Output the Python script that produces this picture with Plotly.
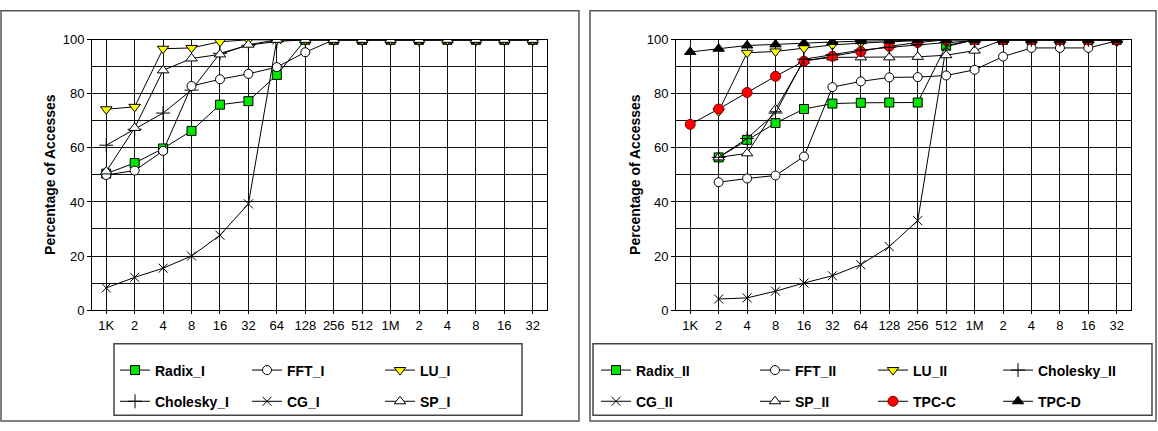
import plotly.graph_objects as go

W, H = 1158, 431

x_labels = ["1K", "2", "4", "8", "16", "32", "64", "128", "256", "512", "1M", "2", "4", "8", "16", "32"]
x_pos = list(range(len(x_labels)))

# Left panel (I)
radix_I    = [50.5, 54.4, 59.8, 66.3, 76.0, 77.3, 87.0, 100, 100, 100, 100, 100, 100, 100, 100, 100]
fft_I      = [50.0, 51.6, 58.9, 82.9, 85.4, 87.4, 89.9, 95.4, 100, 100, 100, 100, 100, 100, 100, 100]
lu_I       = [74.3, 75.2, 96.7, 97.0, 99.3, 100, 100, 100, 100, 100, 100, 100, 100, 100, 100, 100]
cholesky_I = [61.0, 66.9, 72.9, 81.4, 95.0, 98.0, 99.4, 100, 100, 100, 100, 100, 100, 100, 100, 100]
cg_I       = [8.2, 12.1, 15.5, 20.0, 27.7, 39.3, 100, 100, 100, 100, 100, 100, 100, 100, 100, 100]
sp_I       = [51.3, 67.4, 88.7, 93.1, 94.6, 98.2, 100, 100, 100, 100, 100, 100, 100, 100, 100, 100]

# Right panel (II)
radix_II    = [None, 56.5, 63.0, 69.2, 74.4, 76.4, 76.7, 76.8, 76.8, 97.9, 100, 100, 100, 100, 100, 100]
fft_II      = [None, 47.3, 48.7, 49.8, 56.8, 82.5, 84.6, 86.1, 86.2, 86.8, 88.9, 93.8, 97.0, 97.0, 97.0, 99.6]
lu_II       = [None, 73.5, 95.2, 95.7, 96.9, 98.1, 98.8, 99.3, 99.7, 100, 100, 100, 100, 100, 100, 100]
cholesky_II = [None, 56.5, 63.5, 72.9, 92.8, 94.5, 96.2, 97.2, 98.2, 99.0, 99.6, 100, 100, 100, 100, 100]
cg_II       = [None, 4.1, 4.5, 7.0, 10.0, 12.7, 16.8, 23.5, 33.1, 97.5, 100, 100, 100, 100, 100, 100]
sp_II       = [None, 56.5, 58.0, 74.3, 92.3, 93.5, 93.5, 93.5, 93.7, 94.3, 96.0, 100, 100, 100, 100, 100]
tpc_c       = [68.7, 74.4, 80.5, 86.5, 92.1, 93.9, 95.6, 97.6, 99.0, 100, 100, 100, 100, 100, 100, 100]
tpc_d       = [95.5, 96.7, 97.9, 98.3, 98.8, 99.2, 99.5, 99.7, 99.9, 100, 100, 100, 100, 100, 100, 100]

FONT = "Arial, Liberation Sans, sans-serif"
GREEN = "#00e600"

styles = {
    "radix": dict(symbol="square", size=9, color=GREEN, line=dict(color="black", width=1)),
    "fft": dict(symbol="circle", size=9, color="white", line=dict(color="black", width=1)),
    "lu": dict(symbol="triangle-down", size=10, color="#ffff00", line=dict(color="black", width=1)),
    "chol": dict(symbol="cross-thin", size=10, color="black", line=dict(color="black", width=1)),
    "cg": dict(symbol="x-thin", size=9, color="black", line=dict(color="black", width=1)),
    "sp": dict(symbol="triangle-up", size=10, color="white", line=dict(color="black", width=1)),
    "tpcc": dict(symbol="circle", size=10, color="#ff0000", line=dict(color="#800000", width=1)),
    "tpcd": dict(symbol="triangle-up", size=10, color="black", line=dict(color="black", width=1)),
}

fig = go.Figure()

def add(name, y, style, xa, ya, legend):
    fig.add_trace(go.Scatter(
        x=x_pos, y=y, name=name, mode="lines+markers",
        line=dict(color="black", width=1),
        marker=styles[style], xaxis=xa, yaxis=ya,
        legend=legend, legendgroup=name, connectgaps=False,
    ))

# left
add("Radix_I", radix_I, "radix", "x", "y", "legend")
add("Cholesky_I", cholesky_I, "chol", "x", "y", "legend")
add("FFT_I", fft_I, "fft", "x", "y", "legend2")
add("CG_I", cg_I, "cg", "x", "y", "legend2")
add("LU_I", lu_I, "lu", "x", "y", "legend3")
add("SP_I", sp_I, "sp", "x", "y", "legend3")
# right
add("Radix_II", radix_II, "radix", "x2", "y2", "legend4")
add("CG_II", cg_II, "cg", "x2", "y2", "legend4")
add("FFT_II", fft_II, "fft", "x2", "y2", "legend5")
add("SP_II", sp_II, "sp", "x2", "y2", "legend5")
add("LU_II", lu_II, "lu", "x2", "y2", "legend6")
add("TPC-C", tpc_c, "tpcc", "x2", "y2", "legend6")
add("Cholesky_II", cholesky_II, "chol", "x2", "y2", "legend7")
add("TPC-D", tpc_d, "tpcd", "x2", "y2", "legend7")

def px(x):
    return x / W

def py(y):
    return (H - y) / H

plot_top, plot_bot = 34, 314
left_dom = [px(92), px(547)]
right_dom = [px(676), px(1131)]
ydom = [py(plot_bot), py(plot_top)]

xcommon = dict(range=[-0.5, 15.5], tickmode="array", tickvals=x_pos, ticktext=x_labels,
               showgrid=True, gridcolor="#111111", gridwidth=1, zeroline=False,
               showline=True, mirror=True, linecolor="black", linewidth=1,
               ticks="outside", ticklen=3, tickcolor="black",
               tickfont=dict(family=FONT, size=13, color="black"), fixedrange=True)
ycommon = dict(range=[0, 100], tickmode="linear", tick0=0, dtick=20,
               showgrid=True, gridcolor="#111111", gridwidth=1, zeroline=False,
               minor=dict(dtick=10, showgrid=True, gridcolor="#111111", gridwidth=1),
               showline=True, mirror=True, linecolor="black", linewidth=1,
               ticks="outside", ticklen=4, tickcolor="black",
               tickfont=dict(family=FONT, size=13, color="black"), fixedrange=True)

leg_font = dict(family=FONT, size=14, color="black", weight="bold")

def leg(xpix):
    return dict(x=px(xpix - 40), y=py(360), xanchor="left", yanchor="top",
                orientation="v", bgcolor="rgba(0,0,0,0)", borderwidth=0,
                font=leg_font, traceorder="grouped", tracegroupgap=10, itemwidth=30)

shapes = []
def rect(x0, y0, x1, y1, color="#555555", width=1.5):
    shapes.append(dict(type="rect", xref="paper", yref="paper",
                       x0=px(x0), x1=px(x1), y0=py(y1), y1=py(y0),
                       line=dict(color=color, width=width), fillcolor="rgba(0,0,0,0)",
                       layer="below"))

rect(1, 4, 579, 429)
rect(590, 4, 1156, 429)
rect(114, 349, 522, 423, color="#444444", width=1.5)
rect(593, 349, 1152, 423, color="#444444", width=1.5)

annotations = [
    dict(text="Percentage of Accesses", x=px(40), y=py(174), xref="paper", yref="paper",
         textangle=-90, showarrow=False, font=dict(family=FONT, size=14, color="black", weight="bold")),
    dict(text="Percentage of Accesses", x=px(635), y=py(174), xref="paper", yref="paper",
         textangle=-90, showarrow=False, font=dict(family=FONT, size=14, color="black", weight="bold")),
]

fig.update_layout(
    width=W, height=H, margin=dict(l=0, r=0, t=0, b=0),
    paper_bgcolor="white", plot_bgcolor="white",
    xaxis=dict(domain=left_dom, anchor="y", **xcommon),
    yaxis=dict(domain=ydom, anchor="x", **ycommon),
    xaxis2=dict(domain=right_dom, anchor="y2", **xcommon),
    yaxis2=dict(domain=ydom, anchor="x2", **ycommon),
    legend=leg(155), legend2=leg(287), legend3=leg(420),
    legend4=leg(636), legend5=leg(795), legend6=leg(913), legend7=leg(1038),
    shapes=shapes, annotations=annotations, showlegend=True,
)

fig.write_html("out.html")
